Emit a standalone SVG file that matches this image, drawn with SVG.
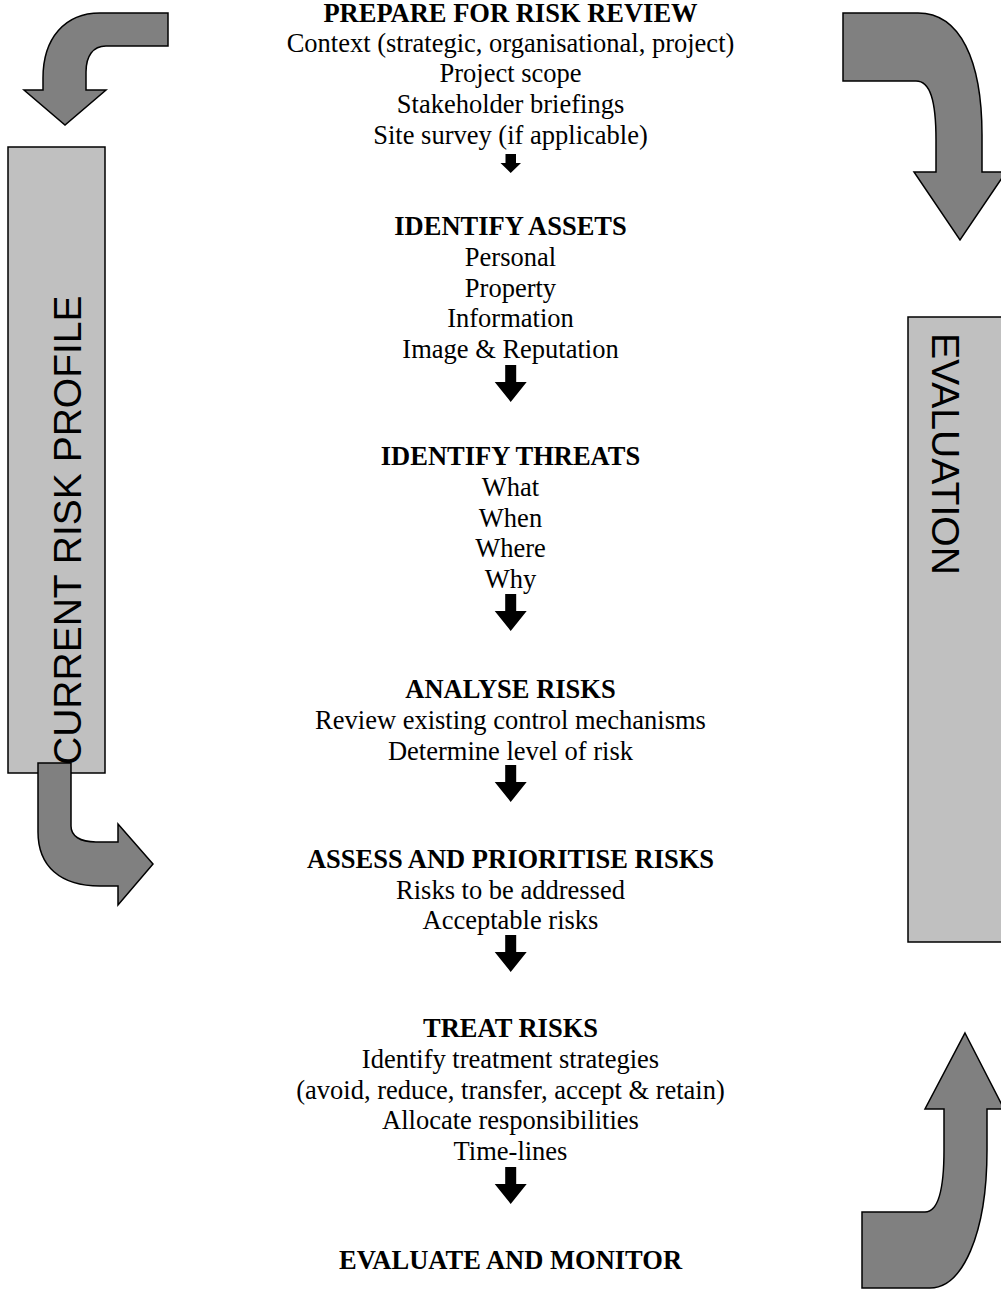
<svg xmlns="http://www.w3.org/2000/svg" width="1001" height="1289" viewBox="0 0 1001 1289">
<defs>
<style>
.t{font-family:"Liberation Serif","Times New Roman",serif;font-size:26.5px;fill:#000;text-anchor:middle}
.b{font-weight:bold}
.side{font-family:"Liberation Sans",Arial,sans-serif;fill:#000}
.box{fill:#c0c0c0;stroke:#000;stroke-width:1.5}
.curve{fill:#808080;stroke:#000;stroke-width:1.5;stroke-linejoin:miter}
.dn{fill:#000}
</style>
<polygon id="dn" points="-5.5,0 5.5,0 5.5,17 16,17 0,37 -16,17 -5.5,17"/>
</defs>
<rect width="1001" height="1289" fill="#fff"/>

<g id="current-risk-profile">
<rect class="box" x="8" y="147" width="97" height="626"/>
<text class="side" font-size="39" transform="translate(81,765) rotate(-90)">CURRENT RISK PROFILE</text>
</g>

<g id="evaluation">
<rect class="box" x="908" y="317" width="100" height="625"/>
<text class="side" font-size="38" transform="translate(932,333) rotate(90)" textLength="242" lengthAdjust="spacingAndGlyphs">EVALUATION</text>
</g>

<g id="connectors">
<path class="curve" d="M168,13 L100,13 C65,13 43,38 43,78 L43,90 L24,90 L65,125 L106,90 L86,90 L86,72 C86,56 93,46 106,46 L168,46 Z"/>
<path class="curve" d="M843,13 L918,13 C960,13 982,60 982,135 L982,172 L1006,172 L960,240 L914,172 L936,172 L936,140 C936,100 930,81 916,81 L843,81 Z"/>
<path class="curve" d="M38,763 L71,763 L71,826 C71,836 80,842 96,842 L118,842 L118,824 L153,864 L118,905 L118,886 L100,886 C60,886 38,866 38,832 Z"/>
<path class="curve" d="M965,1033 L1004,1109 L987,1109 L987,1150 C987,1235 962,1288 930,1288 L862,1288 L862,1212 L925,1212 C938,1212 944,1192 944,1150 L944,1109 L925,1109 Z"/>
<polygon class="dn" points="505.5,154 516,154 516,163 521,163 510.7,173 500.5,163 505.5,163"/>
<use href="#dn" class="dn" x="510.7" y="365"/>
<use href="#dn" class="dn" x="510.7" y="594"/>
<use href="#dn" class="dn" x="510.7" y="765"/>
<use href="#dn" class="dn" x="510.7" y="935"/>
<use href="#dn" class="dn" x="510.7" y="1167"/>
</g>

<g id="prepare">
<text class="t b" x="510.5" y="22">PREPARE FOR RISK REVIEW</text>
<text class="t" x="510.5" y="51.5">Context (strategic, organisational, project)</text>
<text class="t" x="510.5" y="82.1">Project scope</text>
<text class="t" x="510.5" y="112.9">Stakeholder briefings</text>
<text class="t" x="510.5" y="143.7">Site survey (if applicable)</text>
</g>

<g id="identify-assets">
<text class="t b" x="510.5" y="235">IDENTIFY ASSETS</text>
<text class="t" x="510.5" y="265.8">Personal</text>
<text class="t" x="510.5" y="296.6">Property</text>
<text class="t" x="510.5" y="327.4">Information</text>
<text class="t" x="510.5" y="358.2">Image &amp; Reputation</text>
</g>

<g id="identify-threats">
<text class="t b" x="510.5" y="465">IDENTIFY THREATS</text>
<text class="t" x="510.5" y="496">What</text>
<text class="t" x="510.5" y="526.5">When</text>
<text class="t" x="510.5" y="557">Where</text>
<text class="t" x="510.5" y="588">Why</text>
</g>

<g id="analyse">
<text class="t b" x="510.5" y="698">ANALYSE RISKS</text>
<text class="t" x="510.5" y="728.8">Review existing control mechanisms</text>
<text class="t" x="510.5" y="759.6">Determine level of risk</text>
</g>

<g id="assess">
<text class="t b" x="510.5" y="868">ASSESS AND PRIORITISE RISKS</text>
<text class="t" x="510.5" y="898.6">Risks to be addressed</text>
<text class="t" x="510.5" y="929.4">Acceptable risks</text>
</g>

<g id="treat">
<text class="t b" x="510.5" y="1037">TREAT RISKS</text>
<text class="t" x="510.5" y="1067.8">Identify treatment strategies</text>
<text class="t" x="510.5" y="1098.6">(avoid, reduce, transfer, accept &amp; retain)</text>
<text class="t" x="510.5" y="1129.4">Allocate responsibilities</text>
<text class="t" x="510.5" y="1160.2">Time-lines</text>
</g>

<g id="evaluate-monitor">
<text class="t b" x="510.5" y="1269">EVALUATE AND MONITOR</text>
</g>
</svg>
